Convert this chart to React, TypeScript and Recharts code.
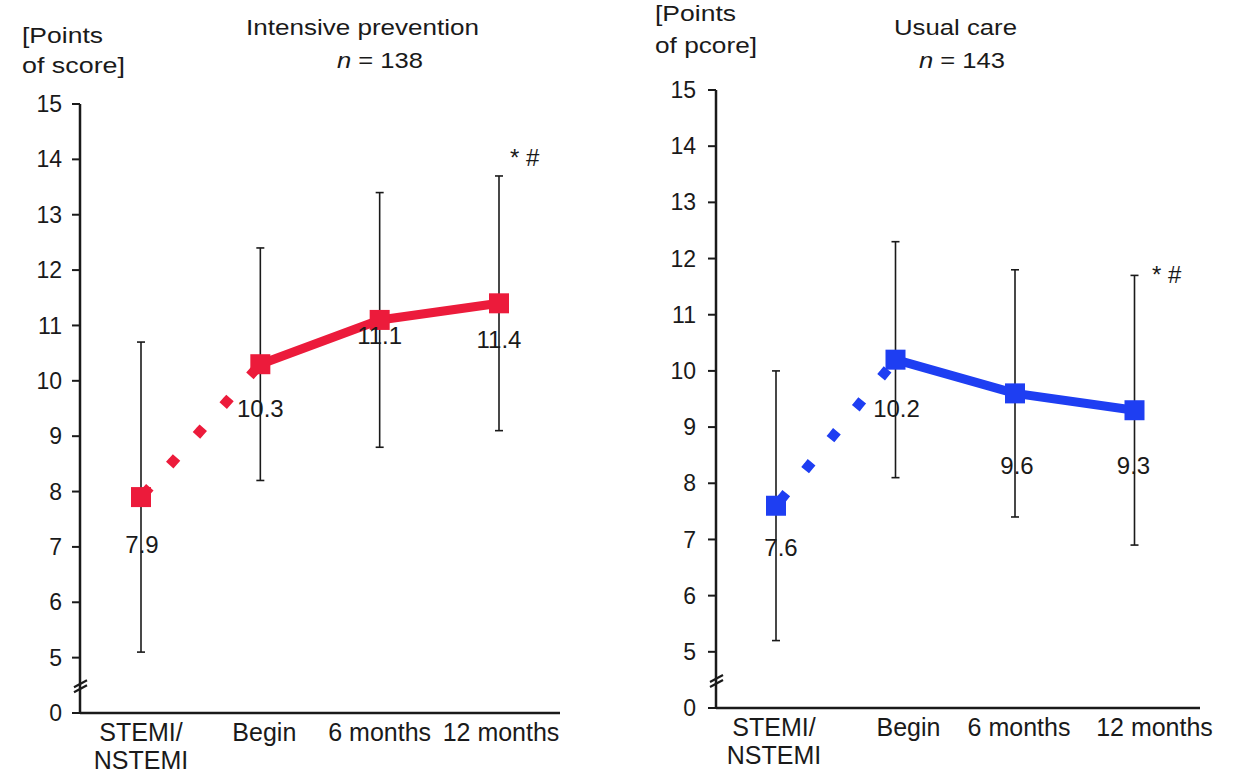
import React from 'react';
import { ComposedChart, Line, XAxis, YAxis, ErrorBar, LabelList } from 'recharts';

const categories = ['STEMI/\nNSTEMI', 'Begin', '6 months', '12 months'];

const intensiveMean = [7.9, 10.3, 11.1, 11.4];
const intensiveLow = [5.1, 8.2, 8.8, 9.1];
const intensiveHigh = [10.7, 12.4, 13.4, 13.7];

const usualMean = [7.6, 10.2, 9.6, 9.3];
const usualLow = [5.2, 8.1, 7.4, 6.9];
const usualHigh = [10.0, 12.3, 11.8, 11.7];

const yTickLabels = [0, 5, 6, 7, 8, 9, 10, 11, 12, 13, 14, 15];

// axis is broken under 5: the "0" sits one step below 5
const BREAK_BASE = 4;
const BREAK_MARK = 4.5;
const yTickValues = [BREAK_MARK, ...yTickLabels.map((v) => (v === 0 ? BREAK_BASE : v))].sort((a, b) => a - b);

const FONT = '"Liberation Sans", Arial, Helvetica, sans-serif';
const INK = '#1a1a1a';
const RED = '#ec1b3b';
const BLUE = '#1e3ef2';

function buildRows(mean: number[], low: number[], high: number[]) {
  return categories.map((cat, i) => ({
    cat,
    mean: mean[i],
    mark: mean[i],
    err: [mean[i] - low[i], high[i] - mean[i]],
    dotted: i <= 1 ? mean[i] : null,
    solid: i >= 1 ? mean[i] : null,
  }));
}

function YTick(props: any) {
  const { x, y, payload, gap } = props;
  const ax = x + gap;
  if (payload.value === BREAK_MARK) {
    return (
      <g stroke={INK} strokeWidth={2.2}>
        <line x1={ax - 6} y1={y + 2} x2={ax + 7} y2={y - 5} />
        <line x1={ax - 6} y1={y + 7} x2={ax + 7} y2={y} />
      </g>
    );
  }
  return (
    <g>
      <line x1={ax - 8} x2={ax} y1={y} y2={y} stroke={INK} strokeWidth={2} />
      <text x={x} y={y} dy="0.35em" textAnchor="end" fontSize={23} fill={INK} fontFamily={FONT}>
        {payload.value === BREAK_BASE ? '0' : payload.value}
      </text>
    </g>
  );
}

function XTick(props: any) {
  const { x, y, payload, shift } = props;
  const lines = String(payload.value).split('\n');
  return (
    <text x={x + shift} y={y} textAnchor="middle" fontSize={25} fill={INK} fontFamily={FONT}>
      {lines.map((l, i) => (
        <tspan key={i} x={x + shift} dy={i === 0 ? 20 : 28}>
          {l}
        </tspan>
      ))}
    </text>
  );
}

const makeSquare = (color: string) => (props: any) => {
  const { cx, cy, index } = props;
  if (cx == null || cy == null) return <g key={`sq-${index}`} />;
  return <rect key={`sq-${index}`} x={cx - 10} y={cy - 10} width={20} height={20} fill={color} />;
};

const makeValueLabel = (offsets: { dx: number; dy: number }[]) => (props: any) => {
  const { x, y, value, index } = props;
  const o = offsets[index] || { dx: 0, dy: 30 };
  return (
    <text x={x + o.dx} y={y + o.dy} dy="0.35em" textAnchor="middle" fontSize={24} fill={INK} fontFamily={FONT}>
      {value}
    </text>
  );
};

const panels = [
  {
    key: 'intensive',
    left: 0,
    width: 620,
    margin: { top: 104, right: 60, bottom: 12, left: 0 },
    yWidth: 80,
    tickMargin: 10,
    padding: { left: 61, right: 61 },
    color: RED,
    dashOffset: 32,
    mean: intensiveMean,
    low: intensiveLow,
    high: intensiveHigh,
    catShift: [0, 4, 0, 2],
    labelOffsets: [
      { dx: 1, dy: 48 },
      { dx: 0, dy: 44 },
      { dx: 0, dy: 16 },
      { dx: 0, dy: 36 },
    ],
  },
  {
    key: 'usual',
    left: 620,
    width: 623,
    margin: { top: 90, right: 43, bottom: 17, left: 0 },
    yWidth: 96,
    tickMargin: 12,
    padding: { left: 60, right: 65.5 },
    color: BLUE,
    dashOffset: 29,
    mean: usualMean,
    low: usualLow,
    high: usualHigh,
    catShift: [-2, 13, 4, 20],
    labelOffsets: [
      { dx: 5, dy: 42 },
      { dx: 1, dy: 49 },
      { dx: 2, dy: 72 },
      { dx: -1, dy: 55 },
    ],
  },
];

function Panel({ cfg }: { cfg: (typeof panels)[number] }) {
  const rows = buildRows(cfg.mean, cfg.low, cfg.high);
  return (
    <div style={{ position: 'absolute', left: cfg.left, top: 0 }}>
      <ComposedChart width={cfg.width} height={775} data={rows} margin={cfg.margin}>
        <XAxis
          dataKey="cat"
          scale="point"
          padding={cfg.padding}
          axisLine={{ stroke: INK, strokeWidth: 2.5 }}
          tickLine={false}
          interval={0}
          height={50}
          tick={(p: any) => <XTick {...p} shift={cfg.catShift[p.index] || 0} />}
        />
        <YAxis
          type="number"
          domain={[BREAK_BASE, 15]}
          ticks={yTickValues}
          interval={0}
          allowDataOverflow
          width={cfg.yWidth}
          tickSize={8}
          tickMargin={cfg.tickMargin}
          tickLine={false}
          axisLine={{ stroke: INK, strokeWidth: 2.5 }}
          tick={(p: any) => <YTick {...p} gap={8 + cfg.tickMargin} />}
        />
        <Line dataKey="mean" stroke="none" dot={false} activeDot={false} isAnimationActive={false}>
          <ErrorBar dataKey="err" width={4} stroke={INK} strokeWidth={1.6} direction="y" />
        </Line>
        <Line
          dataKey="dotted"
          stroke={cfg.color}
          strokeWidth={10}
          strokeDasharray="0.2 39.8"
          strokeDashoffset={cfg.dashOffset}
          strokeLinecap="square"
          dot={false}
          activeDot={false}
          isAnimationActive={false}
        />
        <Line
          dataKey="solid"
          stroke={cfg.color}
          strokeWidth={9}
          strokeLinejoin="round"
          dot={false}
          activeDot={false}
          isAnimationActive={false}
        />
        <Line dataKey="mark" stroke="none" dot={makeSquare(cfg.color)} activeDot={false} isAnimationActive={false}>
          <LabelList dataKey="mark" content={makeValueLabel(cfg.labelOffsets)} />
        </Line>
      </ComposedChart>
    </div>
  );
}

export default function App() {
  return (
    <div style={{ position: 'absolute', left: 0, top: 0, width: 1243, height: 775, background: '#fff', overflow: 'hidden' }}>
      {panels.map((p) => (
        <Panel key={p.key} cfg={p} />
      ))}
      <svg width={1243} height={775} style={{ position: 'absolute', left: 0, top: 0, pointerEvents: 'none' }}>
        <g fontFamily={FONT} fontSize={22} fill={INK}>
          <text x={22} y={43} textLength={81} lengthAdjust="spacingAndGlyphs">[Points</text>
          <text x={22} y={73} textLength={103} lengthAdjust="spacingAndGlyphs">of score]</text>
          <text x={246} y={35} textLength={233} lengthAdjust="spacingAndGlyphs">Intensive prevention</text>
          <text x={337} y={68} textLength={86} lengthAdjust="spacingAndGlyphs">
            <tspan fontStyle="italic">n</tspan> = 138
          </text>
          <text x={510} y={166} fontSize={24}>* #</text>

          <text x={655} y={21} textLength={81} lengthAdjust="spacingAndGlyphs">[Points</text>
          <text x={655} y={53} textLength={102} lengthAdjust="spacingAndGlyphs">of pcore]</text>
          <text x={894} y={35} textLength={123} lengthAdjust="spacingAndGlyphs">Usual care</text>
          <text x={919} y={68} textLength={86} lengthAdjust="spacingAndGlyphs">
            <tspan fontStyle="italic">n</tspan> = 143
          </text>
          <text x={1152} y={283} fontSize={24}>* #</text>
        </g>
      </svg>
    </div>
  );
}
